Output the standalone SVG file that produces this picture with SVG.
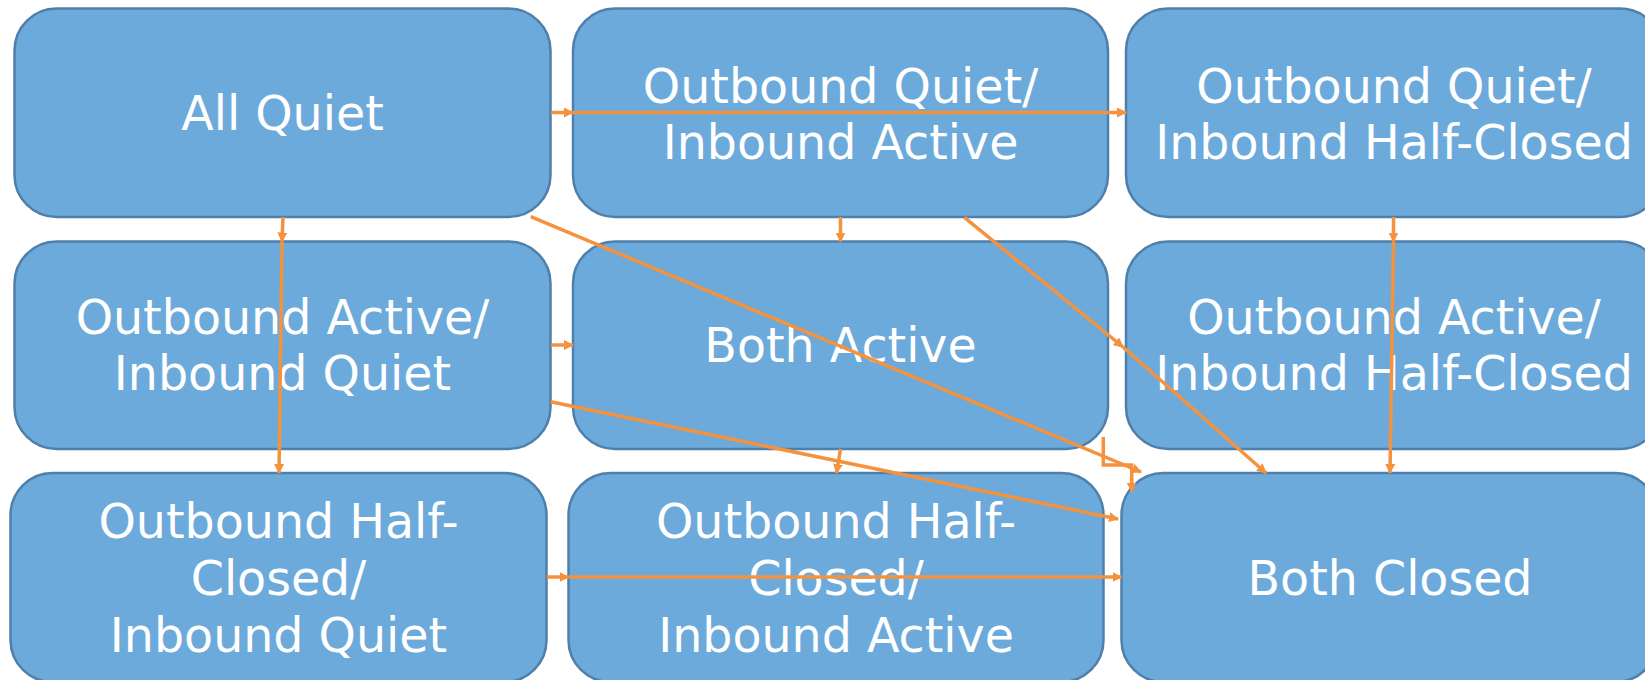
<svg xmlns="http://www.w3.org/2000/svg" width="1645" height="680" viewBox="0 0 1645 680">
  <style>
    .box { fill: #6CAADB; stroke: #4F7FAB; stroke-width: 2.5; }
    .lbl { fill: #FFFFFF; font-family: "DejaVu Sans", "Liberation Sans", sans-serif; font-size: 47.5px; text-anchor: middle; }
    .edge { fill: none; stroke: #F5923E; stroke-width: 3.5; marker-end: url(#head); }
  </style>
  <defs>
    <marker id="head" viewBox="0 0 10 10" refX="9" refY="5" markerWidth="10" markerHeight="10" markerUnits="userSpaceOnUse" orient="auto">
      <path d="M0,0 L10,5 L0,10 z" fill="#F5923E"/>
    </marker>
  </defs>

  <rect width="1645" height="680" fill="#FFFFFF"/>

  <!-- row 1 -->
  <g id="all-quiet">
    <rect class="box" x="14.5" y="8.5" width="536" height="208.5" rx="42"/>
    <text class="lbl" x="282.5" y="130">All Quiet</text>
  </g>
  <g id="out-quiet-in-active">
    <rect class="box" x="573" y="8.5" width="535" height="208.5" rx="42"/>
    <text class="lbl" x="840.5" y="103">Outbound Quiet/</text>
    <text class="lbl" x="840.5" y="159">Inbound Active</text>
  </g>
  <g id="out-quiet-in-halfclosed">
    <rect class="box" x="1126" y="8.5" width="536" height="208.5" rx="42"/>
    <text class="lbl" x="1394" y="103">Outbound Quiet/</text>
    <text class="lbl" x="1394" y="159">Inbound Half-Closed</text>
  </g>

  <!-- row 2 -->
  <g id="out-active-in-quiet">
    <rect class="box" x="14.5" y="241.5" width="536" height="207.5" rx="42"/>
    <text class="lbl" x="282.5" y="334">Outbound Active/</text>
    <text class="lbl" x="282.5" y="390">Inbound Quiet</text>
  </g>
  <g id="both-active">
    <rect class="box" x="573" y="241.5" width="535" height="207.5" rx="42"/>
    <text class="lbl" x="840.5" y="362">Both Active</text>
  </g>
  <g id="out-active-in-halfclosed">
    <rect class="box" x="1126" y="241.5" width="536" height="207.5" rx="42"/>
    <text class="lbl" x="1394" y="334">Outbound Active/</text>
    <text class="lbl" x="1394" y="390">Inbound Half-Closed</text>
  </g>

  <!-- row 3 -->
  <g id="out-halfclosed-in-quiet">
    <rect class="box" x="10.5" y="473" width="536" height="209" rx="42"/>
    <text class="lbl" x="278.5" y="538">Outbound Half-</text>
    <text class="lbl" x="278.5" y="595">Closed/</text>
    <text class="lbl" x="278.5" y="652">Inbound Quiet</text>
  </g>
  <g id="out-halfclosed-in-active">
    <rect class="box" x="568.5" y="473" width="535" height="209" rx="42"/>
    <text class="lbl" x="836" y="538">Outbound Half-</text>
    <text class="lbl" x="836" y="595">Closed/</text>
    <text class="lbl" x="836" y="652">Inbound Active</text>
  </g>
  <g id="both-closed">
    <rect class="box" x="1121.5" y="473" width="536" height="209" rx="42"/>
    <text class="lbl" x="1390" y="595">Both Closed</text>
  </g>

  <!-- transitions -->
  <g id="connectors">
    <path class="edge" d="M551,112.5 L573,112.5"/>
    <path class="edge" d="M573,112.5 L1126,112.5"/>
    <path class="edge" d="M283,217 L282,241.5"/>
    <path class="edge" d="M282,241.5 L279,473"/>
    <path class="edge" d="M840.5,217 L840.5,241.5"/>
    <path class="edge" d="M840.5,449 L836.5,473"/>
    <path class="edge" d="M551,345 L573,345"/>
    <path class="edge" d="M547,577 L568.5,577"/>
    <path class="edge" d="M568.5,577 L1121.5,577"/>
    <path class="edge" d="M1393.5,217 L1393.5,241.5"/>
    <path class="edge" d="M1393.5,241.5 L1390,473"/>
    <path class="edge" d="M530.7,216.7 L1141,472"/>
    <path class="edge" d="M964.3,217.3 L1123,347"/>
    <path class="edge" d="M1123,347 L1266,473"/>
    <path class="edge" d="M550.7,401.7 L1118,519"/>
    <path class="edge" d="M1103.3,437 L1103.3,465 L1131.7,465 L1131.7,491.7"/>
  </g>
</svg>
